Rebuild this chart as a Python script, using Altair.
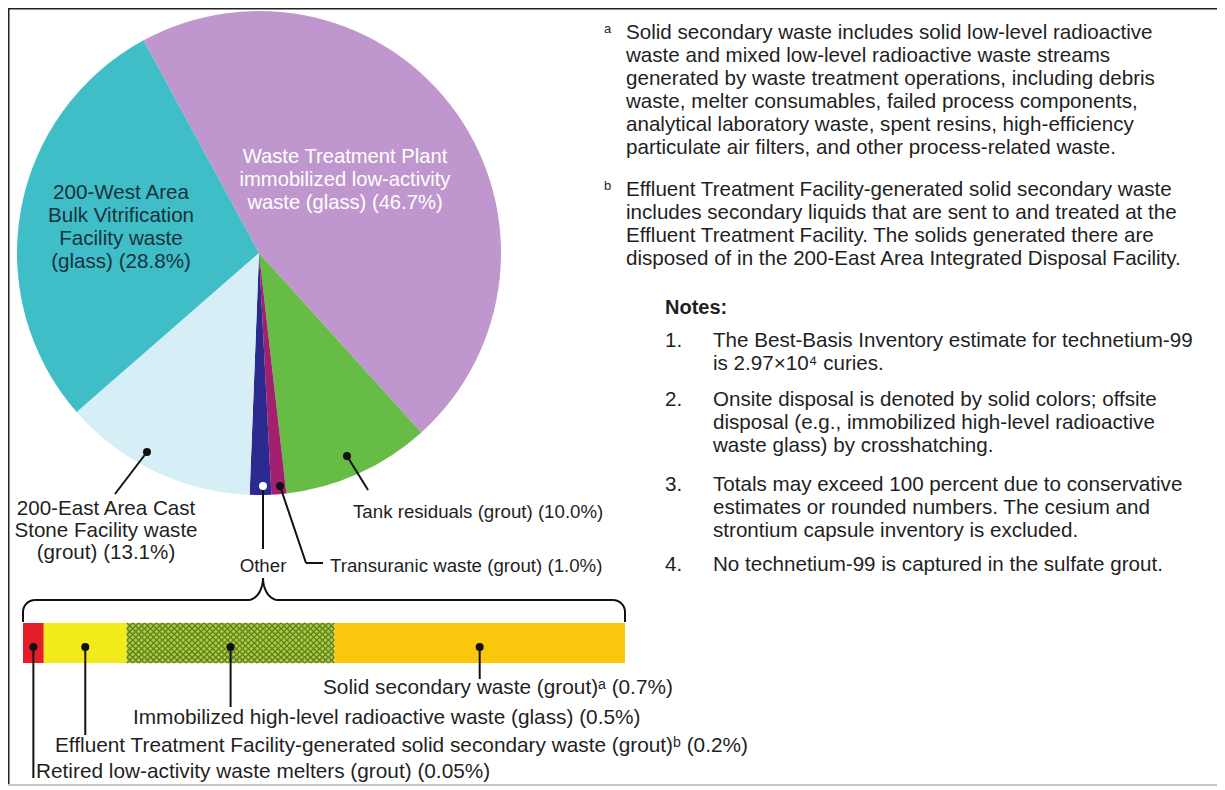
import altair as alt
import pandas as pd
import numpy as np

# ---------------- data ----------------
pie_names = [
    "Waste Treatment Plant immobilized low-activity waste (glass)",
    "Tank residuals (grout)",
    "Transuranic waste (grout)",
    "Other",
    "200-East Area Cast Stone Facility waste (grout)",
    "200-West Area Bulk Vitrification Facility waste (glass)",
]
other_names = [
    "Retired low-activity waste melters (grout)",
    "Effluent Treatment Facility-generated solid secondary waste (grout)",
    "Immobilized high-level radioactive waste (glass)",
    "Solid secondary waste (grout)",
]
other_values = [0.05, 0.2, 0.5, 0.7]
other_sup = ["", "\u1d47", "", "\u1d43"]
other_hatched = [False, False, True, False]
pie_values = [46.7, 10.0, 1.0, round(sum(other_values), 2), 13.1, 28.8]

pie_colors = ["#BF97CE", "#66BC45", "#A3206F", "#2C2A8E", "#D6EEF6", "#3FBEC7"]
other_colors = ["#E41E26", "#F2EA1B", "#A8CC3C", "#FAC70C"]
hatch_color = "#5D7A22"

note_a = [
    "Solid secondary waste includes solid low-level radioactive",
    "waste and mixed low-level radioactive waste streams",
    "generated by waste treatment operations, including debris",
    "waste, melter consumables, failed process components,",
    "analytical laboratory waste, spent resins, high-efficiency",
    "particulate air filters, and other process-related waste.",
]
note_b = [
    "Effluent Treatment Facility-generated solid secondary waste",
    "includes secondary liquids that are sent to and treated at the",
    "Effluent Treatment Facility.  The solids generated there are",
    "disposed of in the 200-East Area Integrated Disposal Facility.",
]
notes = [
    ["The Best-Basis Inventory estimate for technetium-99", "is 2.97\u00d710\u2074 curies."],
    ["Onsite disposal is denoted by solid colors; offsite",
     "disposal (e.g., immobilized high-level radioactive",
     "waste glass) by crosshatching."],
    ["Totals may exceed 100 percent due to conservative",
     "estimates or rounded numbers.  The cesium and",
     "strontium capsule inventory is excluded."],
    ["No technetium-99 is captured in the sulfate grout."],
]

# ---------------- layout ----------------
O = 8  # page margin offset (image coords -> chart coords)
FONT = "Liberation Sans, Arial, sans-serif"
TXT = "#1f1f1f"

def P(v):
    return v - O

cx, cy, R = P(259), P(253), 242
start = np.deg2rad(331.5)

pie_df = pd.DataFrame({"name": pie_names, "value": pie_values,
                       "color": pie_colors, "k": list(range(len(pie_names)))})
pie = alt.Chart(pie_df).mark_arc(radius=R).encode(
    theta=alt.Theta("value:Q", stack=True,
                    scale=alt.Scale(range=[float(start), float(start + 2 * np.pi)])),
    order=alt.Order("k:Q"),
    color=alt.Color("color:N", scale=None),
    x=alt.value(cx), y=alt.value(cy),
)

total = sum(other_values)
cum = np.concatenate([[0], np.cumsum(other_values)])
bar_df = pd.DataFrame({"name": other_names, "value": other_values,
                       "s": cum[:-1], "e": cum[1:], "color": other_colors})
bar_df["mid"] = (bar_df["s"] + bar_df["e"]) / 2
xs = alt.Scale(domain=[0, float(total)], range=[P(23), P(625)])
BT, BB = P(623), P(663)

bar = alt.Chart(bar_df).mark_bar().encode(
    x=alt.X("s:Q", scale=xs, axis=None), x2="e:Q",
    y=alt.value(BT), y2=alt.value(BB),
    color=alt.Color("color:N", scale=None),
)

# crosshatch for offsite-disposal segment(s)
hrows = []
for i, h in enumerate(other_hatched):
    if not h:
        continue
    s, e = cum[i], cum[i + 1]
    n, m = 35, 7
    for a in range(n):
        for b in range(m):
            hrows.append({"x": s + (a + 0.5) * (e - s) / n,
                          "y": BT + (b + 0.5) * (BB - BT) / m})
hatch = alt.Chart(pd.DataFrame(hrows)).mark_point(
    shape="M-1,-1L1,1M1,-1L-1,1", filled=False, size=34,
    color=hatch_color, strokeWidth=1.2, opacity=1,
).encode(x=alt.X("x:Q", scale=xs, axis=None), y=alt.Y("y:Q", scale=None))

# bar leaders
bar_lead_end = [P(778), P(735), P(707), P(679)]
bl_df = bar_df.copy()
bl_df["y0"] = P(647)
bl_df["y1"] = bar_lead_end
bar_rules = alt.Chart(bl_df).mark_rule(color="#111", strokeWidth=2).encode(
    x=alt.X("mid:Q", scale=xs, axis=None),
    y=alt.Y("y0:Q", scale=None), y2="y1:Q")
bar_dots = alt.Chart(bl_df).mark_circle(size=64, color="#111", opacity=1).encode(
    x=alt.X("mid:Q", scale=xs, axis=None), y=alt.Y("y0:Q", scale=None))

# pie leaders (pixel positions)
segs = pd.DataFrame([
    {"x": 147, "y": 452, "x2": 115, "y2": 494},
    {"x": 347, "y": 456, "x2": 368, "y2": 490},
    {"x": 280, "y": 486, "x2": 306, "y2": 563},
    {"x": 306, "y": 563, "x2": 323, "y2": 563},
    {"x": 263, "y": 486, "x2": 263, "y2": 549},
])
segs = segs - O
pie_rules = alt.Chart(segs).mark_rule(color="#111", strokeWidth=2).encode(
    x=alt.X("x:Q", scale=None), y=alt.Y("y:Q", scale=None),
    x2="x2:Q", y2="y2:Q")
dots = pd.DataFrame([
    {"x": 147, "y": 452, "c": "#111"},
    {"x": 347, "y": 456, "c": "#111"},
    {"x": 280, "y": 486, "c": "#111"},
    {"x": 263, "y": 486, "c": "#ffffff"},
])
dots[["x", "y"]] = dots[["x", "y"]] - O
pie_dots = alt.Chart(dots).mark_circle(size=64, opacity=1).encode(
    x=alt.X("x:Q", scale=None), y=alt.Y("y:Q", scale=None),
    color=alt.Color("c:N", scale=None))

# brace
def earc(ex, ey, rx, ry, a0, a1, n=10):
    t = np.deg2rad(np.linspace(a0, a1, n))
    return list(zip(ex + rx * np.cos(t), ey + ry * np.sin(t)))

left = [(23, 622)] + earc(35, 612, 12, 12, 180, 270) + earc(248, 578, 15, 22, 90, 0)
right = earc(278, 578, 15, 22, 180, 90) + earc(613, 612, 12, 12, 270, 360) + [(625, 622)]
brows = []
for g, pts in enumerate([left, right]):
    for k, (px, py) in enumerate(pts):
        brows.append({"x": P(px), "y": P(py), "g": g, "k": k})
brace = alt.Chart(pd.DataFrame(brows)).mark_line(color="#111", strokeWidth=2).encode(
    x=alt.X("x:Q", scale=None), y=alt.Y("y:Q", scale=None),
    detail="g:N", order="k:Q")

# ---------------- text ----------------
def text_layer(rows, size, color=TXT, align="left", font=FONT, weight="normal"):
    df = pd.DataFrame(rows, columns=["x", "y", "text"])
    df["x"] = df["x"] - O
    df["y"] = df["y"] - O
    return alt.Chart(df).mark_text(
        align=align, baseline="middle", fontSize=size, font=font,
        color=color, fontWeight=weight,
    ).encode(x=alt.X("x:Q", scale=None), y=alt.Y("y:Q", scale=None), text="text:N")

def pct(v):
    return f"({v:.1f}%)"

wtp_lines = ["Waste Treatment Plant", "immobilized low-activity", f"waste (glass) {pct(pie_values[0])}"]
west_lines = ["200-West Area", "Bulk Vitrification", "Facility waste", f"(glass) {pct(pie_values[5])}"]
east_lines = ["200-East Area Cast", "Stone Facility waste", f"(grout) {pct(pie_values[4])}"]

t_wtp = text_layer([(345, 157 + 23 * i, s) for i, s in enumerate(wtp_lines)], 20.2, "#ffffff", "center")
t_west = text_layer([(121, 193 + 23 * i, s) for i, s in enumerate(west_lines)], 20.6, "#17323d", "center")
t_east = text_layer([(106, 509 + 22 * i, s) for i, s in enumerate(east_lines)], 20.6, TXT, "center")
t_small = text_layer([
    (353, 512, f"Tank residuals (grout) {pct(pie_values[1])}"),
    (330, 566, f"Transuranic waste (grout) {pct(pie_values[2])}"),
], 18.7, TXT, "left")
t_other = text_layer([(263, 566, pie_names[3])], 18.7, TXT, "center")

bx = [36, 55, 133, 323]
by = [772, 746, 718, 688]
t_bar = text_layer([(bx[i], by[i], f"{other_names[i]}{other_sup[i]} ({other_values[i]:g}%)")
                    for i in range(4)], 20.8, TXT, "left")

rows = [(626, 33 + 23 * i, s) for i, s in enumerate(note_a)]
rows += [(626, 190 + 23 * i, s) for i, s in enumerate(note_b)]
note_y = [341, 400, 485, 565]
num_rows = []
for j, lines in enumerate(notes):
    num_rows.append((665, note_y[j], f"{j + 1}."))
    rows += [(713, note_y[j] + 23 * i, s) for i, s in enumerate(lines)]
t_right = text_layer(rows + num_rows, 20.6, TXT, "left")
t_sup = text_layer([(604, 29, "a"), (604, 186, "b")], 13, TXT, "left")
t_notes = text_layer([(665, 308, "Notes:")], 20, TXT, "left", FONT, "bold")

# frame
one = pd.DataFrame({"a": [0]})
frame_l = alt.Chart(one).mark_rule(color="#222", strokeWidth=1.5).encode(
    x=alt.value(0.75), y=alt.value(0), y2=alt.value(778))
frame_t = alt.Chart(one).mark_rule(color="#222", strokeWidth=1.5).encode(
    x=alt.value(0), x2=alt.value(1209), y=alt.value(0.75))
frame_b = alt.Chart(one).mark_rule(color="#c8c8c8", strokeWidth=2).encode(
    x=alt.value(0), x2=alt.value(1209), y=alt.value(777))

chart = alt.layer(
    pie, bar, hatch, bar_rules, bar_dots, pie_rules, pie_dots, brace,
    t_wtp, t_west, t_east, t_small, t_other, t_bar, t_right, t_sup, t_notes,
    frame_l, frame_t, frame_b,
).resolve_scale(
    x="independent", y="independent", color="independent", theta="independent"
).properties(
    width=1209, height=778, autosize="none", padding=0, background="white"
).configure_view(stroke=None)

chart.save("out.html", embed_options={"renderer": "svg", "actions": False})
